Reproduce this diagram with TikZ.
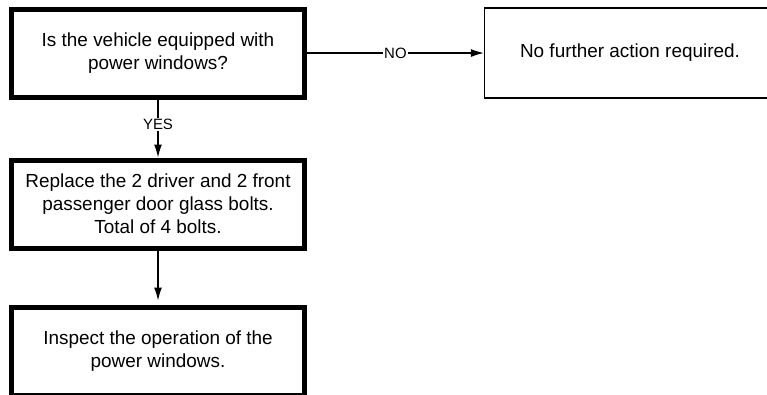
\documentclass[tikz,border=0pt]{standalone}
\usepackage{fontspec}
\setmainfont{Liberation Sans}
\usetikzlibrary{arrows.meta}

\begin{document}
\begin{tikzpicture}[x=1bp, y=-1bp, >={Latex[length=13bp,width=8bp]}, line width=1.2bp,
    font=\fontsize{19}{23}\selectfont,
    stepbox/.style={draw, line width=5bp, minimum width=293bp, minimum height=88bp, align=center, inner sep=0pt},
    endbox/.style={draw, line width=1.2bp, minimum width=291bp, minimum height=90bp, align=center, inner sep=0pt},
    answer/.style={fill=white, inner sep=1.5bp, font=\fontsize{15}{18}\selectfont}]
    \useasboundingbox (0,0) rectangle (767,394);
    \clip (0,0) rectangle (767,394);

    \node[stepbox] (ask)     at (158,53)  {Is the vehicle equipped with\\power windows?};
    \node[endbox]  (none)    at (630,53)  {No further action required.};
    \node[stepbox] (replace) at (158,204) {Replace the 2 driver and 2 front\\passenger door glass bolts.\\Total of 4 bolts.};
    \node[stepbox] (inspect) at (158,351) {Inspect the operation of the\\power windows.};

    \draw[->] (ask) -- node[answer] {NO} (none);
    \draw[->] (ask) -- node[answer, pos=0.43] {YES} (replace);
    \draw[->, shorten >=4bp] (replace) -- (inspect);
\end{tikzpicture}
\end{document}
